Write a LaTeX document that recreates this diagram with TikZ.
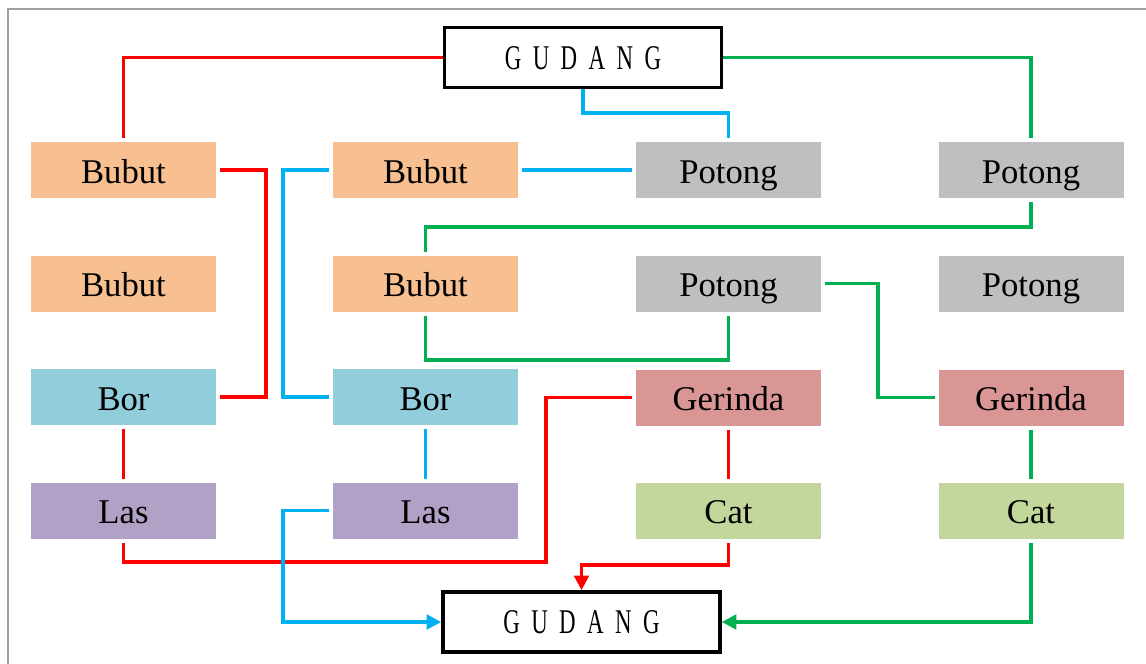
\documentclass[tikz,border=0pt]{standalone}
\usepackage{fontspec}
\usepackage{graphicx}
\setmainfont{Liberation Serif}
\usetikzlibrary{arrows.meta}
\definecolor{cBubut}{RGB}{248,192,144}
\definecolor{cPotong}{RGB}{191,191,191}
\definecolor{cBor}{RGB}{146,205,220}
\definecolor{cLas}{RGB}{178,161,199}
\definecolor{cGerinda}{RGB}{217,150,148}
\definecolor{cCat}{RGB}{195,214,155}
\definecolor{cRed}{RGB}{255,0,0}
\definecolor{cBlue}{RGB}{0,176,240}
\definecolor{cGreen}{RGB}{0,176,80}
\definecolor{cFrame}{RGB}{160,160,160}
\newcommand\gl[1]{\scalebox{0.66}[1]{#1}}
\newcommand\gsp{\hspace{8.6pt}}
\tikzset{
  proc/.style={minimum width=138.75pt, minimum height=42pt, inner sep=0pt, outer sep=3pt,
    text height=19.5pt, text depth=0pt, font=\fontsize{26}{30}\selectfont},
  bubut/.style={proc, fill=cBubut},
  potong/.style={proc, fill=cPotong},
  bor/.style={proc, fill=cBor},
  las/.style={proc, fill=cLas},
  gerinda/.style={proc, fill=cGerinda},
  cat/.style={proc, fill=cCat},
  gudang/.style={draw=black, line width=2.7pt, fill=white, minimum width=207.75pt, minimum height=45pt,
    inner sep=0pt, text height=17.5pt, text depth=0pt, font=\fontsize{26}{30}\selectfont},
  con/.style={line width=2.5pt},
  red/.style={con, draw=cRed},
  blue/.style={con, draw=cBlue},
  green/.style={con, draw=cGreen},
  tip/.style={-{Triangle[length=11pt, width=11pt]}},
}
\begin{document}
\begin{tikzpicture}[x=0.75pt, y=-0.75pt]
\useasboundingbox (0,0) rectangle (1146,664);
\draw[cFrame, line width=0.9pt] (8,664) -- (8,9) -- (1146,9);

% nodes
\node[gudang] (gud1) at (583,57.5) {\gl{G}\gsp\gl{U}\gsp\gl{D}\gsp\gl{A}\gsp\gl{N}\gsp\gl{G}};
\node[gudang] (gud2) at (581.5,622) {\gl{G}\gsp\gl{U}\gsp\gl{D}\gsp\gl{A}\gsp\gl{N}\gsp\gl{G}};

\node[bubut] (b1) at (123.5,170) {Bubut};
\node[bubut] (b2) at (123.5,283.5) {Bubut};
\node[bor] (bor1) at (123.5,397) {Bor};
\node[las] (las1) at (123.5,510.5) {Las};

\node[bubut] (bub2a) at (425.5,170) {Bubut};
\node[bubut] (bub2b) at (425.5,283.5) {Bubut};
\node[bor] (bor2) at (425.5,397) {Bor};
\node[las] (las2) at (425.5,510.5) {Las};

\node[potong] (pot3a) at (728.5,170) {Potong};
\node[potong] (pot3b) at (728.5,283.5) {Potong};
\node[gerinda] (ger3) at (728.5,397.5) {Gerinda};
\node[cat] (cat3) at (728.5,510.5) {Cat};

\node[potong] (pot4a) at (1031,170) {Potong};
\node[potong] (pot4b) at (1031,283.5) {Potong};
\node[gerinda] (ger4) at (1031,397.5) {Gerinda};
\node[cat] (cat4) at (1031,510.5) {Cat};

% red route
\draw[red] (gud1.west) -| (b1.north);
\draw[red] (b1.east) -- ++(46,0) |- (bor1.east);
\draw[red] (bor1.south) -- (las1.north);
\draw[red] (las1.south) |- (546,562) |- (ger3.west);
\draw[red] (ger3.south) -- (cat3.north);
\draw[red, tip] (cat3.south) |- (gud2.north |- 0,565) -- (gud2.north);

% blue route
\draw[blue] (gud1.south) |- (pot3a.north |- 0,113) -- (pot3a.north);
\draw[blue] (pot3a.west) -- (bub2a.east);
\draw[blue] (bub2a.west) -- ++(-46,0) |- (bor2.west);
\draw[blue] (bor2.south) -- (las2.north);
\draw[blue, tip] (las2.west) -- ++(-46,0) |- (gud2.west);

% green route
\draw[green] (gud1.east) -| (pot4a.north);
\draw[green] (pot4a.south) |- (bub2b.north |- 0,227) -- (bub2b.north);
\draw[green] (bub2b.south) |- (pot3b.south |- 0,360) -- (pot3b.south);
\draw[green] (pot3b.east) -- ++(53,0) |- (ger4.west);
\draw[green] (ger4.south) -- (cat4.north);
\draw[green, tip] (cat4.south) |- (gud2.east);
\end{tikzpicture}
\end{document}
